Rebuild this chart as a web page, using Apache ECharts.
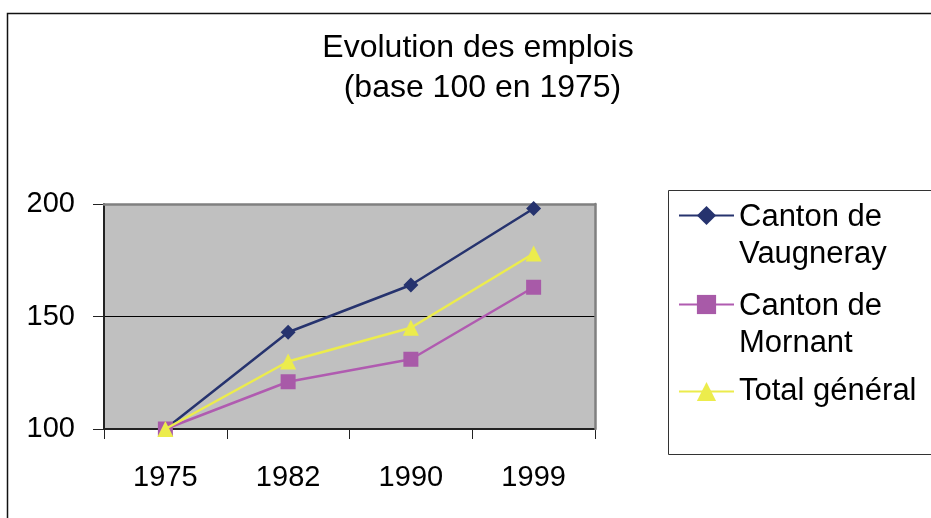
<!DOCTYPE html>
<html>
<head>
<meta charset="utf-8">
<script src="https://cdn.jsdelivr.net/npm/echarts@6/dist/echarts.min.js"></script>
<style>
html,body{margin:0;padding:0;background:#fff;}
#chart{width:931px;height:518px;}
</style>
</head>
<body>
<div id="chart"></div>
<script>
const categories = ['1975', '1982', '1990', '1999'];
const vaugneray = [100, 143, 164, 198];
const mornant = [100, 121, 131, 163];
const total = [100, 130, 145, 178];
const seriesNames = ['Canton de Vaugneray', 'Canton de Mornant', 'Total général'];
const yTicks = {min: 100, max: 200, interval: 50};
const titleText = 'Evolution des emplois\n (base 100 en 1975)';

const FONT = "'Liberation Sans', Arial, sans-serif";
const chart = echarts.init(document.getElementById('chart'), null, {renderer: 'canvas'});

function legendFor(name, top, twoLines) {
  return {
    data: [name],
    orient: 'vertical',
    left: 678,
    top: top,
    padding: 0,
    itemWidth: 55,
    itemHeight: 24,
    selectedMode: false,
    formatter: n => twoLines ? '{p| }\n{t|' + n.replace(' de ', ' de}\n{t|') + '}' : n,
    textStyle: {
      fontFamily: FONT, fontSize: 31, color: '#000', lineHeight: 37,
      rich: {
        p: {fontFamily: FONT, fontSize: 31, lineHeight: 41, color: '#000'},
        t: {fontFamily: FONT, fontSize: 31, lineHeight: 37, color: '#000'}
      }
    }
  };
}

chart.setOption({
  animation: false,
  backgroundColor: '#fff',
  title: {
    text: titleText,
    left: 478,
    top: 28,
    padding: 0,
    textAlign: 'center',
    textStyle: {fontFamily: FONT, fontSize: 32, fontWeight: 'normal', color: '#000', lineHeight: 40}
  },
  legend: [
    legendFor(seriesNames[0], 158, true),
    legendFor(seriesNames[1], 247, true),
    legendFor(seriesNames[2], 373, false)
  ],
  graphic: [
    {type: 'rect', shape: {x: 7.5, y: 13.5, width: 1000, height: 600}, style: {fill: null, stroke: '#111', lineWidth: 1.5}, silent: true, z: -10},
    {type: 'rect', shape: {x: 668.5, y: 190.5, width: 400, height: 264}, style: {fill: null, stroke: '#333', lineWidth: 1}, silent: true, z: -10}
  ],
  grid: {
    left: 104, top: 204, right: 336, bottom: 89,
    show: true, backgroundColor: '#c0c0c0', borderWidth: 0
  },
  xAxis: [
    {
      type: 'category', data: categories, boundaryGap: true, position: 'bottom',
      axisLine: {lineStyle: {color: '#222', width: 2}},
      axisTick: {show: true, inside: false, length: 10, alignWithLabel: false, lineStyle: {color: '#222', width: 1}},
      axisLabel: {fontFamily: FONT, fontSize: 29, color: '#000', margin: 34},
      splitLine: {show: false}, z: 4
    },
    {
      type: 'category', data: categories, position: 'top', gridIndex: 0,
      axisLine: {lineStyle: {color: '#808080', width: 2.5}},
      axisTick: {show: false}, axisLabel: {show: false}, splitLine: {show: false}, z: 5
    }
  ],
  yAxis: [
    {
      type: 'value', min: yTicks.min, max: yTicks.max, interval: yTicks.interval,
      axisLine: {show: true, lineStyle: {color: '#222', width: 2}},
      axisTick: {show: true, inside: false, length: 11, lineStyle: {color: '#222', width: 1}},
      axisLabel: {fontFamily: FONT, fontSize: 29, color: '#000', margin: 29},
      splitLine: {show: true, lineStyle: {color: '#000', width: 1}}, z: 4
    },
    {
      type: 'value', min: yTicks.min, max: yTicks.max, interval: yTicks.interval, position: 'right',
      axisLine: {show: true, lineStyle: {color: '#808080', width: 2.5}},
      axisTick: {show: false}, axisLabel: {show: false}, splitLine: {show: false}, z: 5
    }
  ],
  series: [
    {
      name: seriesNames[0], type: 'line', data: vaugneray, symbol: 'diamond', symbolSize: 15,
      lineStyle: {color: '#26336e', width: 2.5}, itemStyle: {color: '#26336e'}, z: 6
    },
    {
      name: seriesNames[1], type: 'line', data: mornant, symbol: 'rect', symbolSize: 15,
      lineStyle: {color: '#b05bb0', width: 2.5}, itemStyle: {color: '#a85aa8'}, z: 7
    },
    {
      name: seriesNames[2], type: 'line', data: total, symbol: 'triangle', symbolSize: 16,
      lineStyle: {color: '#ecec4c', width: 2.5}, itemStyle: {color: '#ecec4c'}, z: 8
    }
  ]
});
</script>
</body>
</html>
